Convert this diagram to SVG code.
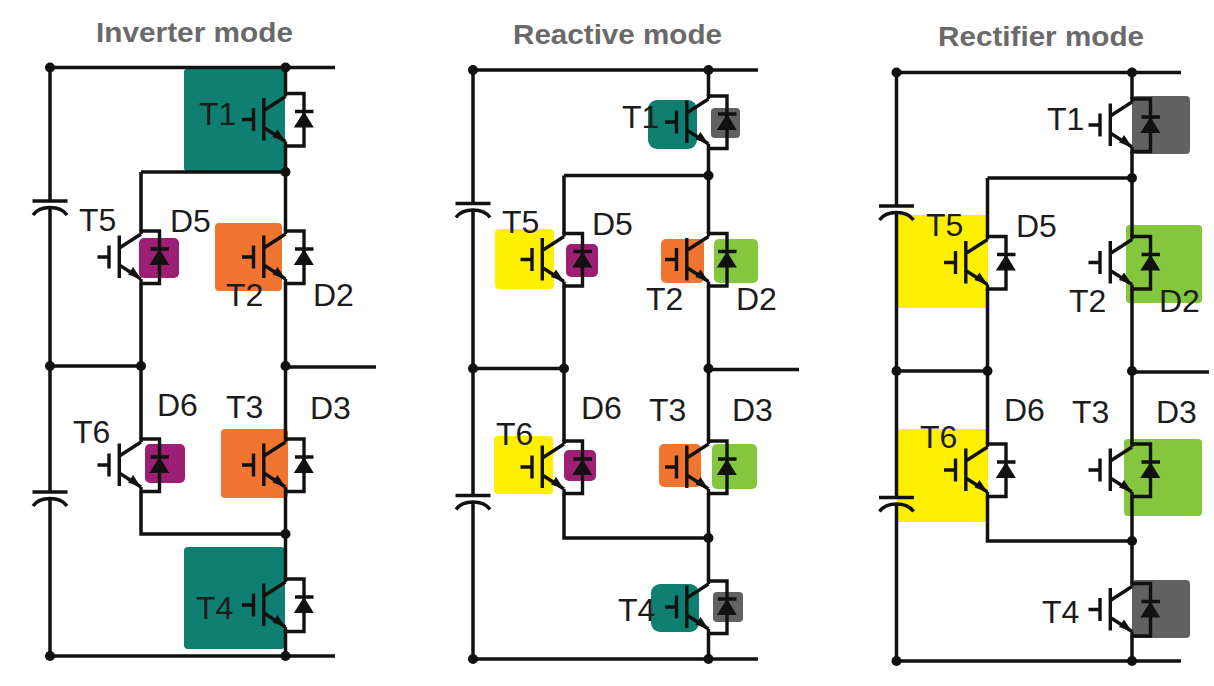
<svg xmlns="http://www.w3.org/2000/svg" xmlns:xlink="http://www.w3.org/1999/xlink" width="1214" height="686" viewBox="0 0 1214 686">
<style>
.w{fill:none;stroke:#111;stroke-width:3.5}
.s{fill:none;stroke:#111;stroke-width:3.4}
.h{font:bold 28.5px "Liberation Sans",Arial,sans-serif;fill:#6a6a6a}
.l{font:32px "Liberation Sans",Arial,sans-serif;fill:#1c1c1c}
.teal{fill:#0f7f72}.or{fill:#f07530}.pu{fill:#9c1f74}.ye{fill:#fff000}.gr{fill:#85c63f}.gy{fill:#616161}
.dot{fill:#111}
</style>
<defs>
<g id="igbt">
<path class="s" d="M-43.5 0H-32M-32 -11.5V11.5M-21.7 -21.5V21M-21.7 -9L0 -23M-21.7 8L0 22M0 22V26.5H18.5V-26H0V-23M9.5 -8H28"/>
<path d="M18.5 -8L8.3 8H28.3Z" fill="#111"/>
<path d="M0 22L-13 17.5L-8 10Z" fill="#111"/>
</g>
<g id="cap">
<path class="w" d="M-17.5 0H17.5M-17 14C-10 4 10 4 17 14"/>
</g>
<circle id="n" r="5" class="dot"/>
</defs>
<rect width="1214" height="686" fill="#fff"/>
<text class="h" x="96" y="42" textLength="197" lengthAdjust="spacingAndGlyphs">Inverter mode</text>
<text class="h" x="513" y="44" textLength="209" lengthAdjust="spacingAndGlyphs">Reactive mode</text>
<text class="h" x="938" y="46" textLength="206" lengthAdjust="spacingAndGlyphs">Rectifier mode</text>

<g id="p1-t1"><rect class="teal" x="184" y="69" width="101" height="102" rx="3"/><use href="#igbt" x="285.5" y="119.5"/><text class="l" x="199" y="125">T1</text></g>
<g id="p1-t2"><rect class="or" x="215" y="223" width="67" height="68" rx="4"/><use href="#igbt" x="285.5" y="257"/><text class="l" x="226" y="306">T2</text><text class="l" x="313" y="306">D2</text></g>
<g id="p1-t3"><rect class="or" x="221" y="429" width="67" height="69" rx="4"/><use href="#igbt" x="285.5" y="465"/><text class="l" x="226" y="418">T3</text><text class="l" x="310" y="419">D3</text></g>
<g id="p1-t4"><rect class="teal" x="184" y="547" width="101" height="102" rx="4"/><use href="#igbt" x="285.5" y="605"/><text class="l" x="196" y="619">T4</text></g>
<g id="p1-t5"><rect class="pu" x="139" y="238" width="40" height="40" rx="5"/><use href="#igbt" x="141" y="257"/><text class="l" x="79" y="231">T5</text><text class="l" x="170" y="232">D5</text></g>
<g id="p1-t6"><rect class="pu" x="145" y="444" width="40" height="39" rx="5"/><use href="#igbt" x="141" y="465"/><text class="l" x="73" y="443">T6</text><text class="l" x="157" y="416">D6</text></g>

<g id="p2-t1"><rect class="teal" x="648" y="100" width="49" height="49" rx="9"/><rect class="gy" x="711" y="108" width="29" height="30" rx="4"/><use href="#igbt" x="708.5" y="122"/><text class="l" x="622" y="128">T1</text></g>
<g id="p2-t2"><rect class="or" x="661" y="239" width="43" height="44" rx="5"/><rect class="gr" x="714" y="239" width="44" height="44" rx="5"/><use href="#igbt" x="708.5" y="259.5"/><text class="l" x="646" y="310">T2</text><text class="l" x="736" y="310">D2</text></g>
<g id="p2-t3"><rect class="or" x="659" y="444" width="42" height="43" rx="5"/><rect class="gr" x="712" y="444" width="45" height="45" rx="5"/><use href="#igbt" x="708.5" y="467"/><text class="l" x="649" y="421">T3</text><text class="l" x="732" y="421">D3</text></g>
<g id="p2-t4"><rect class="teal" x="651" y="584" width="48" height="48" rx="9"/><rect class="gy" x="713" y="592" width="30" height="30" rx="4"/><use href="#igbt" x="708.5" y="607"/><text class="l" x="618" y="621">T4</text></g>
<g id="p2-t5"><rect class="ye" x="495" y="229" width="59" height="60" rx="4"/><rect class="pu" x="566" y="244" width="32" height="33" rx="5"/><use href="#igbt" x="564" y="259.5"/><text class="l" x="502" y="233">T5</text><text class="l" x="592" y="235">D5</text></g>
<g id="p2-t6"><rect class="ye" x="494" y="436" width="59" height="58" rx="4"/><rect class="pu" x="564" y="450" width="32" height="31" rx="5"/><use href="#igbt" x="564" y="467"/><text class="l" x="496" y="445">T6</text><text class="l" x="581" y="419">D6</text></g>

<g id="p3-t1"><rect class="gy" x="1132" y="96" width="58" height="58" rx="4"/><use href="#igbt" x="1132" y="125"/><text class="l" x="1047" y="130">T1</text></g>
<g id="p3-t2"><rect class="gr" x="1126" y="225" width="76" height="78" rx="4"/><use href="#igbt" x="1132" y="262.5"/><text class="l" x="1069" y="312">T2</text><text class="l" x="1159" y="312">D2</text></g>
<g id="p3-t3"><rect class="gr" x="1124" y="439" width="78" height="77" rx="4"/><use href="#igbt" x="1132" y="470"/><text class="l" x="1072" y="423">T3</text><text class="l" x="1156" y="423">D3</text></g>
<g id="p3-t4"><rect class="gy" x="1132" y="580" width="58" height="58" rx="4"/><use href="#igbt" x="1132" y="609.5"/><text class="l" x="1042" y="623">T4</text></g>
<g id="p3-t5"><rect class="ye" x="897" y="215" width="91" height="93"/><use href="#igbt" x="987.5" y="262.5"/><text class="l" x="926" y="236">T5</text><text class="l" x="1016" y="237">D5</text></g>
<g id="p3-t6"><rect class="ye" x="897" y="429" width="91" height="93"/><use href="#igbt" x="987.5" y="470"/><text class="l" x="920" y="448">T6</text><text class="l" x="1004" y="421">D6</text></g>

<g id="p1-c1"><use href="#cap" x="50" y="201"/></g>
<g id="p1-c2"><use href="#cap" x="50" y="492"/></g>
<g id="p2-c1"><use href="#cap" x="473" y="203.5"/></g>
<g id="p2-c2"><use href="#cap" x="473" y="495.5"/></g>
<g id="p3-c1"><use href="#cap" x="896.5" y="206"/></g>
<g id="p3-c2"><use href="#cap" x="896.5" y="497.5"/></g>

<g id="connectors">
<path class="w" d="M50 67.5H335M50 67.5V201M50 207.5V492M50 498.5V656H335M50 366H141M285.5 367H376M285.5 67.5V93.5M285.5 146V231M141 172H285.5M141 172V231M141 283.5V439M141 491.5V534H285.5M285.5 283.5V439M285.5 491.5V579M285.5 631.5V656"/>
<path class="w" d="M473 70H758M473 70V203.5M473 210V495.5M473 502V659H758M473 368.5H564M708.5 369.5H799M708.5 70V96M708.5 148.5V233.5M564 175.5H708.5M564 175.5V233.5M564 286V441M564 493.5V538H708.5M708.5 286V441M708.5 493.5V581M708.5 633.5V659"/>
<path class="w" d="M896.5 72.5H1181M896.5 72.5V206M896.5 212.5V497.5M896.5 504V661H1181M896.5 371H987.5M1132 372H1209M1132 72.5V99M1132 151.5V236.5M987.5 178H1132M987.5 178V236.5M987.5 289V444M987.5 496.5V541H1132M1132 289V444M1132 496.5V583.5M1132 636V661"/>
<use href="#n" x="50" y="67.5"/><use href="#n" x="285.5" y="67.5"/><use href="#n" x="285.5" y="172"/><use href="#n" x="50" y="366"/><use href="#n" x="141" y="366"/><use href="#n" x="285.5" y="366"/><use href="#n" x="285.5" y="534"/><use href="#n" x="50" y="656"/><use href="#n" x="285.5" y="656"/>
<use href="#n" x="473" y="70"/><use href="#n" x="708.5" y="70"/><use href="#n" x="708.5" y="175.5"/><use href="#n" x="473" y="368.5"/><use href="#n" x="564" y="368.5"/><use href="#n" x="708.5" y="368.5"/><use href="#n" x="708.5" y="538"/><use href="#n" x="473" y="659"/><use href="#n" x="708.5" y="659"/>
<use href="#n" x="896.5" y="72.5"/><use href="#n" x="1132" y="72.5"/><use href="#n" x="1132" y="178"/><use href="#n" x="896.5" y="371"/><use href="#n" x="987.5" y="371"/><use href="#n" x="1132" y="371"/><use href="#n" x="1132" y="541"/><use href="#n" x="896.5" y="661"/><use href="#n" x="1132" y="661"/>
</g>
</svg>
